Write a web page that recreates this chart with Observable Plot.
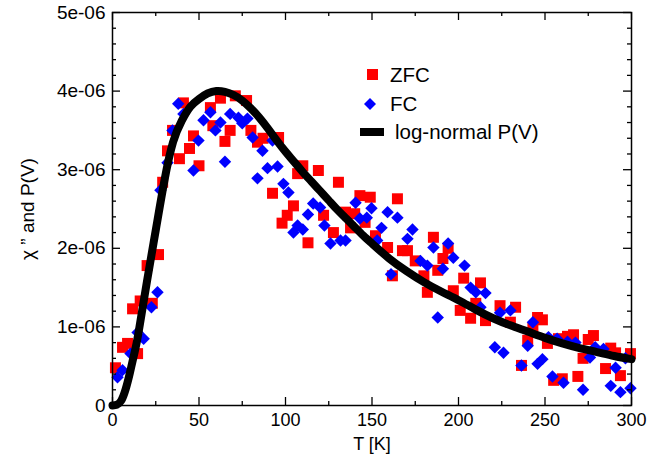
<!DOCTYPE html>
<html>
<head>
<meta charset="utf-8">
<script src="https://cdn.jsdelivr.net/npm/d3@7"></script>
<script src="https://cdn.jsdelivr.net/npm/@observablehq/plot@0.6"></script>
<style>
  body { margin: 0; background: #fff; }
  #wrap { position: relative; width: 663px; height: 464px; font-family: "Liberation Sans", Arial, sans-serif; }
  .leg { position: absolute; font-size: 20.5px; color: #000; display: flex; align-items: center; }
  .leg svg { margin-right: 8px; }
</style>
</head>
<body>
<div id="wrap"></div>
<script>
// ZFC (red squares): T [K], chi'' in units of 1e-6
const zfcT = [1.7,5.8,8.7,11.6,14.5,16,20,23,26.6,29,31.8,34.7,38.7,41,44.5,46.8,50,56.6,58,62.4,65,68,71,77.5,80,83.8,87,92.5,96,98,101,104.6,107,110,113,119,122,127.7,130.6,134.7,137.6,140,143,146,149,152,159,161.8,164.7,167.6,170.5,175,180,182,185.5,188,191,194,197,201,203,207,210,212.7,215.6,224,230,233,236.4,240,243,245.7,248.5,251.4,255,257.8,260,263,266.5,269,272,275,278,285,288,290.8,293.6,299.4];
const zfcV = [0.48,0.74,0.79,1.23,0.66,1.33,1.78,1.30,1.92,2.84,3.24,3.50,3.14,3.85,3.27,3.43,3.05,3.79,3.56,3.91,3.36,3.50,3.94,3.88,3.50,3.35,3.40,2.70,3.41,2.32,2.42,2.54,2.95,3.05,2.07,2.99,2.42,2.20,2.84,2.46,2.26,2.44,2.67,2.33,2.65,2.16,2.01,1.65,2.63,1.97,1.97,1.84,1.65,1.44,2.14,1.72,1.87,2.00,1.46,1.21,1.62,1.11,1.30,1.56,1.08,1.27,1.06,1.25,0.51,0.83,0.98,1.12,1.09,0.79,0.32,0.85,0.34,0.88,0.90,0.37,0.60,0.84,0.89,0.47,0.73,0.67,0.38,0.66];
// FC (blue diamonds)
const fcT = [2.9,5.8,10.4,14.5,18,22.5,26,27.7,31.8,34.7,38,41,46.8,49.7,52.6,56.6,59.5,62.4,65,68,72.8,75,78,81,83.8,86.7,89.6,92.5,95.4,98.8,101.7,104.6,107,110,113,116,120,122.5,126,131.8,134.7,140.5,143,147,149.7,153,155.5,159,161,164.7,170.5,173.4,178,182,185.5,188,191,194,197,203.5,207,210,212.7,215.6,221,224,226,230,236.4,240,243,245.7,248.5,252,254.3,257,260.7,263,267.6,272,276,279,283.8,288,290.8,293.6,296.5,299.4];
const fcV = [0.36,0.45,0.66,0.93,0.85,1.25,1.44,2.74,3.09,3.50,3.84,3.71,2.99,3.37,3.63,3.73,3.50,3.60,3.10,3.71,3.66,3.59,3.65,3.41,2.89,3.24,3.02,3.37,3.04,2.82,2.71,2.20,2.29,2.24,2.43,2.57,2.52,2.29,2.06,2.10,2.10,2.58,2.38,2.39,2.51,2.10,2.26,2.46,1.67,2.39,2.12,2.24,1.84,1.78,2.01,1.12,1.74,2.06,1.88,1.78,1.50,1.44,1.25,1.43,0.74,1.18,0.67,1.21,0.51,0.76,1.06,0.53,0.59,0.87,0.37,0.85,0.29,0.81,0.80,0.20,0.61,0.74,0.72,0.25,0.48,0.17,0.60,0.22];
// log-normal P(V) curve
const curveT = [0,2.5,5,7.5,10,12.5,15,20,25,30,35,40,45,50,55,60,65,70,75,80,85,90,95,100,105,110,115,120,125,130,135,140,145,150,160,170,180,190,200,210,220,230,240,250,260,270,280,290,300];
const curveV = [0,0.01,0.06,0.2,0.41,0.65,0.92,1.59,2.23,2.86,3.35,3.62,3.8,3.9,3.97,4.0,3.99,3.95,3.88,3.78,3.66,3.52,3.37,3.23,3.10,2.97,2.85,2.73,2.61,2.49,2.38,2.27,2.16,2.06,1.87,1.71,1.57,1.45,1.34,1.22,1.11,1.02,0.94,0.86,0.79,0.73,0.68,0.63,0.59];
// axis ticks
const xMajor = [0,50,100,150,200,250,300];
const xMinor = [25,75,125,175,225,275];
const yMajor = [0,1,2,3,4,5];
const yMinor = [0.2,0.4,0.6,0.8,1.2,1.4,1.6,1.8,2.2,2.4,2.6,2.8,3.2,3.4,3.6,3.8,4.2,4.4,4.6,4.8];
const legendLabels = ["ZFC", "FC", "log-normal P(V)"];

const S = 1e-6;
const zfc = zfcT.map((t, i) => ({T: t, v: zfcV[i] * S}));
const fc = fcT.map((t, i) => ({T: t, v: fcV[i] * S}));
const curve = curveT.map((t, i) => ({T: t, v: curveV[i] * S}));

const W = 663, H = 464, mL = 112, mR = 32, mT = 12, mB = 59;
const iW = W - mL - mR, iH = H - mT - mB;
const fmt = d => d === 0 ? "0" : `${Math.round(d / S)}e-06`;

const chart = Plot.plot({
  width: W, height: H,
  marginLeft: mL, marginRight: mR, marginTop: mT, marginBottom: mB,
  style: {fontFamily: "'Liberation Sans', Arial, sans-serif", fontSize: "18px", color: "#000", background: "#fff"},
  x: {domain: [0, 300]},
  y: {domain: [0, 5 * S]},
  marks: [
    Plot.dot(zfc, {x: "T", y: "v", symbol: "square", r: 6.2, fill: "#ff0000", stroke: "none"}),
    Plot.dot(fc, {x: "T", y: "v", symbol: "diamond2", r: 5.6, fill: "#0000ff", stroke: "none"}),
    Plot.line(curve, {x: "T", y: "v", curve: "natural", stroke: "#000", strokeWidth: 8, strokeLinecap: "round", strokeLinejoin: "round"}),
    // inward ticks
    Plot.ruleX(xMajor, {x: d => d, insetTop: iH - 8, strokeWidth: 1.3}),
    Plot.ruleX(xMajor, {x: d => d, insetBottom: iH - 8, strokeWidth: 1.3}),
    Plot.ruleX(xMinor, {x: d => d, insetTop: iH - 4, strokeWidth: 1.3}),
    Plot.ruleX(xMinor, {x: d => d, insetBottom: iH - 4, strokeWidth: 1.3}),
    Plot.ruleY(yMajor.map(d => d * S), {y: d => d, insetRight: iW - 8, strokeWidth: 1.3}),
    Plot.ruleY(yMajor.map(d => d * S), {y: d => d, insetLeft: iW - 8, strokeWidth: 1.3}),
    Plot.ruleY(yMinor.map(d => d * S), {y: d => d, insetRight: iW - 4, strokeWidth: 1.3}),
    Plot.ruleY(yMinor.map(d => d * S), {y: d => d, insetLeft: iW - 4, strokeWidth: 1.3}),
    Plot.axisX({ticks: xMajor, tickSize: 0, tickPadding: 8, tickFormat: d => d, label: "T [K]", labelAnchor: "center", labelArrow: "none", labelOffset: 44}),
    Plot.axisY({ticks: yMajor.map(d => d * S), tickSize: 0, tickPadding: 7, tickFormat: fmt, label: "χ ” and P(V)", labelAnchor: "center", labelArrow: "none", labelOffset: 92, fontSize: 19}),
    Plot.frame({stroke: "#000", strokeWidth: 1.5})
  ]
});

const wrap = document.getElementById("wrap");
wrap.appendChild(chart);

const items = [
  {label: legendLabels[0], top: 63, left: 364, icon: '<svg width="18" height="24"><rect x="3" y="6" width="11" height="11" fill="#ff0000"/></svg>'},
  {label: legendLabels[1], top: 92, left: 362, icon: '<svg width="20" height="24"><polygon points="8,6 14,12 8,18 2,12" fill="#0000ff"/></svg>'},
  {label: legendLabels[2], top: 120, left: 359, icon: '<svg width="28" height="24"><rect x="1" y="8" width="24" height="8" fill="#000"/></svg>'}
];
for (const it of items) {
  const d = document.createElement("div");
  d.className = "leg";
  d.style.top = it.top + "px";
  d.style.left = it.left + "px";
  d.innerHTML = it.icon + "<span>" + it.label + "</span>";
  wrap.appendChild(d);
}
</script>
</body>
</html>
